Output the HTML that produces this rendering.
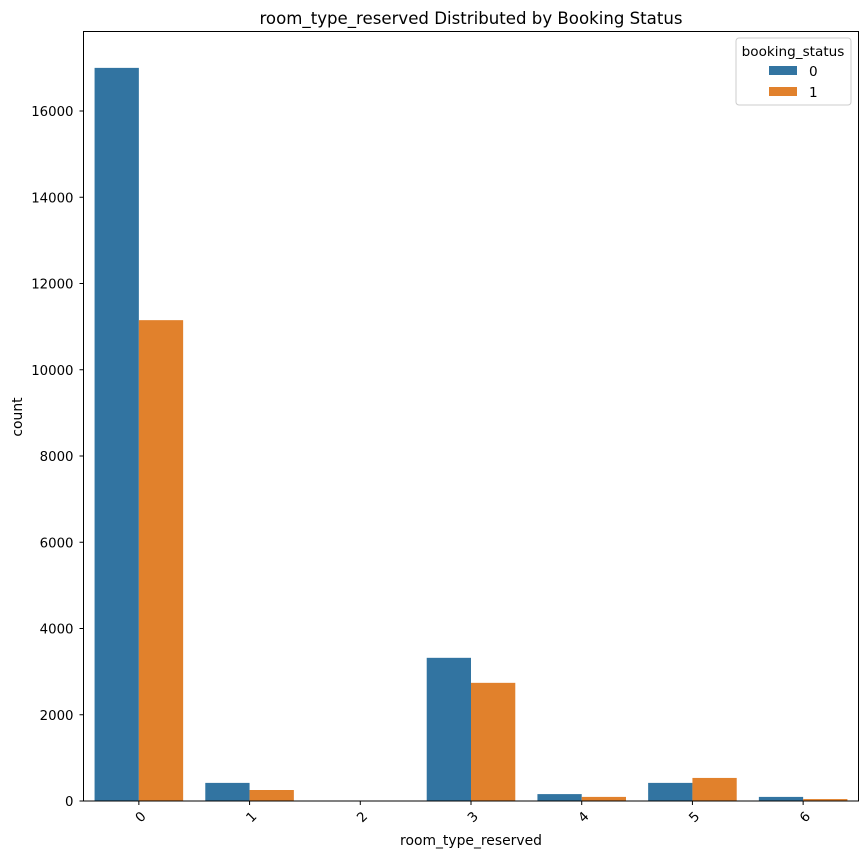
<!DOCTYPE html>
<html><head><meta charset="utf-8"><style>
body{margin:0;background:#fff;font-family:"DejaVu Sans","Liberation Sans",sans-serif;}
</style></head><body>
<svg id="chart" width="868" height="857" xmlns="http://www.w3.org/2000/svg">
<text x="471" y="24" text-anchor="middle" font-size="16.6">room_type_reserved Distributed by Booking Status</text>
<g id="plot"></g>
<text x="471" y="845" text-anchor="middle" font-size="13.9">room_type_reserved</text>
<text transform="translate(22,417) rotate(-90)" text-anchor="middle" font-size="13.9">count</text>
<g>
<rect x="736" y="38" width="115" height="67" fill="#fff" stroke="#ccc" rx="3"/>
<text x="793" y="56" text-anchor="middle" font-size="13.6">booking_status</text>
<rect x="769" y="66" width="28" height="9" fill="#3274a1"/>
<text x="809" y="76" font-size="13.6">0</text>
<rect x="769" y="87" width="28" height="9" fill="#e1812c"/>
<text x="809" y="97" font-size="13.6">1</text>
</g>
</svg>
<script>
const categories=["0","1","2","3","4","5","6"];
const status0=[17000,420,5,3320,160,420,95];
const status1=[11150,255,3,2740,95,535,45];
const yTicks=[0,2000,4000,6000,8000,10000,12000,14000,16000];
const colors=["#3274a1","#e1812c"];
const L=83.5,R=858.5,T=31.5,B=801;
const ns="http://www.w3.org/2000/svg";
const g=document.getElementById('plot');
const y=v=>B-v*(B-111)/16000;
const band=(R-L)/categories.length;
const x=i=>L+band*(i+0.5);
function mk(t,a){const e=document.createElementNS(ns,t);for(const k in a)e.setAttribute(k,a[k]);g.appendChild(e);return e;}
[status0,status1].forEach((s,si)=>{s.forEach((v,i)=>{
 const w=band*0.4;
 const r=mk('rect',{x:x(i)-w+si*w,y:y(v),width:w,height:B-y(v),fill:colors[si]});
 
 
});});
yTicks.forEach(t=>{
 const l=mk('line',{x1:L-4,x2:L,y1:y(t),y2:y(t),stroke:'#000'});
 
 
 const tx=mk('text',{x:L-10,y:y(t)+5,'text-anchor':'end','font-size':'13.3'});tx.textContent=t;
 
 
});
categories.forEach((c,i)=>{
 const l=mk('line',{x1:x(i),x2:x(i),y1:B,y2:B+4,stroke:'#000'});
 
 
 const tx=mk('text',{x:x(i)+2,y:B+22,'text-anchor':'middle','font-size':'13.3',transform:`rotate(-45 ${x(i)} ${B+17})`});tx.textContent=c;
 
 
});
const fr=mk('rect',{x:L,y:T,width:R-L,height:B-T,fill:'none',stroke:'#000','stroke-width':1});


</script>
</body></html>
